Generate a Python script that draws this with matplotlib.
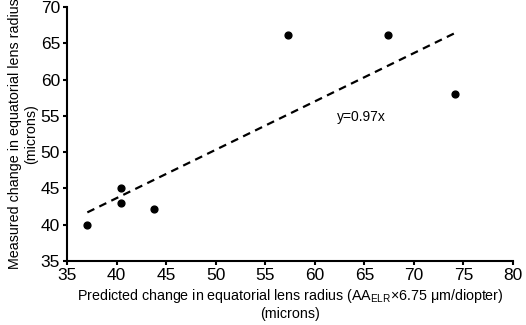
import numpy as np
import matplotlib.pyplot as plt

plt.rcParams['font.family'] = ['Liberation Sans', 'DejaVu Sans']
plt.rcParams['mathtext.fontset'] = 'custom'
plt.rcParams['mathtext.rm'] = 'Liberation Sans'

predicted = [37.05, 40.4, 40.4, 43.8, 57.3, 67.4, 74.15]
measured = [40.0, 45.1, 43.0, 42.1, 66.1, 66.1, 58.0]

# trend line endpoints as drawn in the figure
trend_x = [37.05, 74.1]
trend_y = [41.7, 66.4]

fig = plt.figure(figsize=(5.26, 3.25), dpi=100)
ax = fig.add_axes([0.1274, 0.197, 0.8479, 0.781])

ax.scatter(predicted, measured, s=24, color='black', zorder=3)
ax.plot(trend_x, trend_y, color='black', linewidth=1.6, linestyle=(0, (3.5, 2.5)))
ax.text(62.2, 54.9, 'y=0.97x', fontsize=10, va='center', ha='left')

ax.set_xlim(35, 80)
ax.set_ylim(35, 70)
ax.set_xticks(np.arange(35, 81, 5))
ax.set_yticks(np.arange(35, 71, 5))
ax.tick_params(labelsize=12.5, width=1.5, length=3, direction='out', pad=2)
for s in ['top', 'right']:
    ax.spines[s].set_visible(False)
for s in ['left', 'bottom']:
    ax.spines[s].set_linewidth(1.5)

ax.set_xlabel('Predicted change in equatorial lens radius (AA$_{\\rm ELR}$×6.75 μm/diopter)\n(microns)',
              fontsize=10.3, labelpad=3)
ax.set_ylabel('Measured change in equatorial lens radius\n(microns)', fontsize=10.3, labelpad=2)

fig.savefig('out.png', dpi=100)
